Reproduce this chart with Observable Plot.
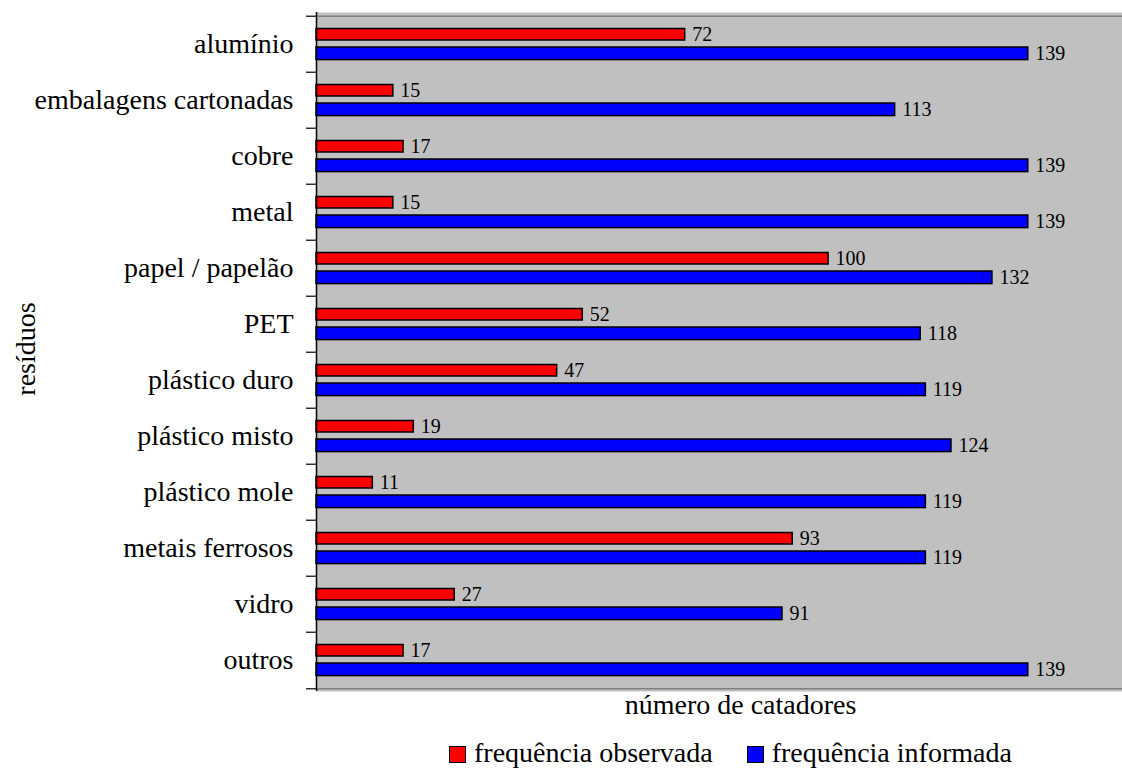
<!DOCTYPE html>
<html>
<head>
<meta charset="utf-8">
<script src="https://cdn.jsdelivr.net/npm/d3@7"></script>
<script src="https://cdn.jsdelivr.net/npm/@observablehq/plot@0.6"></script>
<style>
  html, body { margin: 0; padding: 0; background: #fff; overflow: hidden; }
  #chart { position: relative; width: 1122px; height: 769px; font-family: "Liberation Serif", "Times New Roman", serif; }
  #chart svg { display: block; }
  .legend { position: absolute; left: 449px; top: 737px; display: flex; align-items: center; height: 32px;
            font-size: 28px; line-height: 32px; color: #000; }
  .legend .sw { width: 15px; height: 15px; border: 1px solid #000; margin-top: 3px; margin-right: 8px; }
  .legend .item { display: flex; align-items: center; margin-right: 34px; }
</style>
</head>
<body>
<div id="chart"></div>
<script>
// Tipos de resíduo (de cima para baixo)
const categorias = [
  "alumínio", "embalagens cartonadas", "cobre", "metal", "papel / papelão", "PET",
  "plástico duro", "plástico misto", "plástico mole", "metais ferrosos", "vidro", "outros"
];
// Número de catadores por tipo de resíduo
const observada = [72, 15, 17, 15, 100, 52, 47, 19, 11, 93, 27, 17];
const informada = [139, 113, 139, 139, 132, 118, 119, 124, 119, 119, 91, 139];
const series = ["frequência observada", "frequência informada"];
const cores = ["#ff0000", "#0000ff"];

const obsData = categorias.map((c, i) => ({categoria: c, valor: observada[i]}));
const infData = categorias.map((c, i) => ({categoria: c, valor: informada[i]}));

const W = 1122, H = 735, mTop = 12, mBottom = 44, mLeft = 316;
const step = (H - mTop - mBottom) / categorias.length;
const serif = "'Liberation Serif', 'Times New Roman', serif";

const plot = Plot.plot({
  width: W,
  height: H,
  marginTop: mTop,
  marginBottom: mBottom,
  marginLeft: mLeft,
  marginRight: 0,
  style: {fontFamily: serif, fontSize: "28px", color: "#000", background: "transparent"},
  x: {domain: [0, 157.4], axis: null},
  y: {domain: categorias, padding: 0, axis: null},
  marks: [
    // fundo cinza da área do gráfico
    Plot.frame({fill: "#c0c0c0", stroke: null}),
    // bordas superior e inferior
    Plot.ruleY([categorias[0]], {dy: -step / 2, stroke: "#808080", strokeWidth: 1.5}),
    Plot.ruleY([categorias[categorias.length - 1]], {dy: step / 2, stroke: "#808080", strokeWidth: 1.5}),
    // marcas entre categorias no eixo vertical
    Plot.ruleY(categorias, {x1: 0, x2: 0, insetLeft: -10, dy: -step / 2, stroke: "#000", strokeWidth: 1.2}),
    Plot.ruleY([categorias[categorias.length - 1]], {x1: 0, x2: 0, insetLeft: -10, dy: step / 2, stroke: "#000", strokeWidth: 1.2}),
    // barras
    Plot.barX(obsData, {x: "valor", y: "categoria", fill: cores[0], stroke: "#000", strokeWidth: 1.5,
      insetTop: 12.5, insetBottom: 32}),
    Plot.barX(infData, {x: "valor", y: "categoria", fill: cores[1], stroke: "#000", strokeWidth: 1.5,
      insetTop: 31, insetBottom: 12.4}),
    // rótulos de valor
    Plot.text(obsData, {x: "valor", y: "categoria", text: d => String(d.valor), textAnchor: "start",
      dx: 7, dy: -9.6, fontSize: 20, fill: "#000"}),
    Plot.text(infData, {x: "valor", y: "categoria", text: d => String(d.valor), textAnchor: "start",
      dx: 7, dy: 9.4, fontSize: 20, fill: "#000"}),
    // eixo vertical
    Plot.ruleX([0], {stroke: "#000", strokeWidth: 1.5}),
    Plot.axisY({tickSize: 0, tickPadding: 23, label: null, fontSize: 28}),
    // títulos dos eixos
    Plot.text(["número de catadores"], {frameAnchor: "bottom", dx: 21, dy: 22, fontSize: 28, fill: "#000"}),
    Plot.text(["resíduos"], {frameAnchor: "left", textAnchor: "middle", rotate: -90, dx: -290, dy: -3,
      fontSize: 28, fill: "#000"})
  ]
});

const chart = document.getElementById("chart");
chart.appendChild(plot);

// legenda
const legend = document.createElement("div");
legend.className = "legend";
series.forEach((s, i) => {
  const item = document.createElement("div");
  item.className = "item";
  const sw = document.createElement("span");
  sw.className = "sw";
  sw.style.background = cores[i];
  const label = document.createElement("span");
  label.textContent = s;
  item.appendChild(sw);
  item.appendChild(label);
  legend.appendChild(item);
});
chart.appendChild(legend);
</script>
</body>
</html>
